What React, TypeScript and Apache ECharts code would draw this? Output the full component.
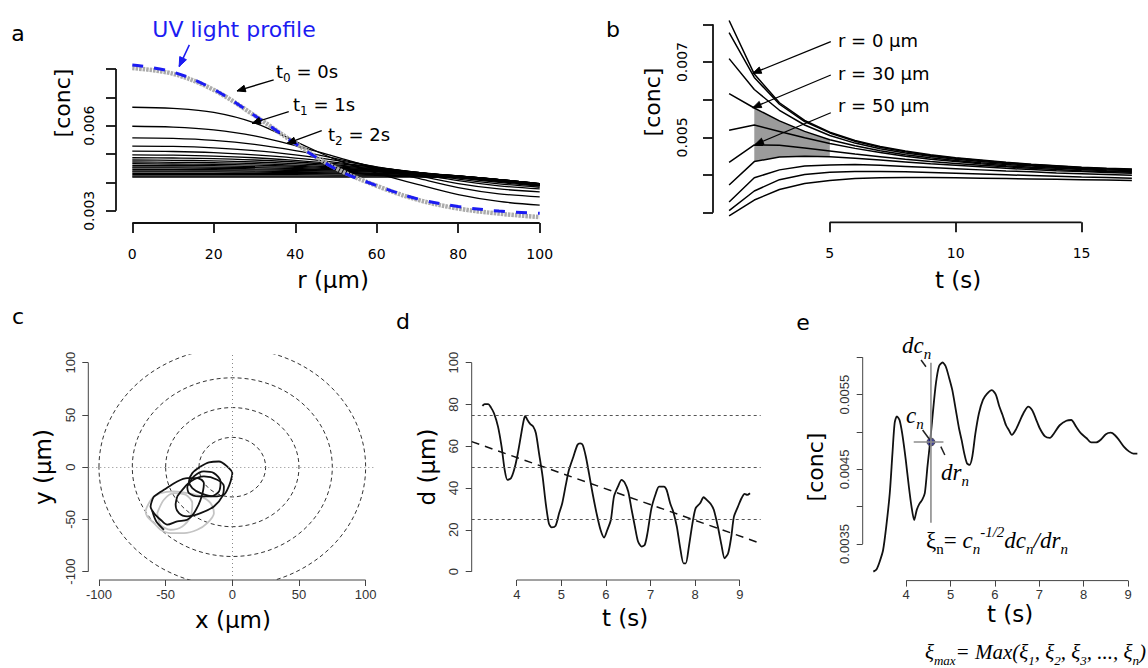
import React, { useEffect, useRef } from "react";
import * as echarts from "echarts";

// ---------------- Panel a : c(r) profiles (values ×1e-3) ----------------
const radiusSteps = [0, 10, 20, 30, 40, 50, 60, 70, 80, 90, 100];
const uvLightProfile = [8.14, 7.89, 7.28, 6.36, 5.37, 4.47, 3.89, 3.42, 3.15, 2.99, 2.91];
const profileT0 = [8.03, 7.83, 7.26, 6.36, 5.38, 4.5, 3.88, 3.39, 3.08, 2.9, 2.78];
const laterProfiles = [
  [6.65, 6.61, 6.47, 6.1, 5.45, 4.8, 4.33, 3.93, 3.57, 3.33, 3.2],
  [5.98, 5.95, 5.85, 5.64, 5.3, 4.9, 4.5, 4.15, 3.82, 3.6, 3.49],
  [5.57, 5.55, 5.48, 5.34, 5.12, 4.84, 4.53, 4.24, 3.96, 3.77, 3.67],
  [5.28, 5.27, 5.22, 5.12, 4.97, 4.78, 4.55, 4.31, 4.06, 3.88, 3.77],
  [5.1, 5.09, 5.05, 4.97, 4.86, 4.71, 4.53, 4.34, 4.12, 3.95, 3.83],
  [4.97, 4.96, 4.93, 4.87, 4.78, 4.66, 4.52, 4.35, 4.16, 4.0, 3.87],
  [4.87, 4.86, 4.84, 4.79, 4.72, 4.62, 4.5, 4.35, 4.18, 4.03, 3.89],
  [4.79, 4.78, 4.76, 4.72, 4.66, 4.58, 4.48, 4.35, 4.2, 4.04, 3.9],
  [4.72, 4.71, 4.7, 4.66, 4.61, 4.54, 4.46, 4.35, 4.21, 4.06, 3.91],
  [4.66, 4.65, 4.64, 4.61, 4.57, 4.51, 4.44, 4.34, 4.22, 4.07, 3.92],
  [4.6, 4.6, 4.59, 4.56, 4.53, 4.48, 4.42, 4.34, 4.23, 4.08, 3.92],
  [4.55, 4.55, 4.54, 4.52, 4.49, 4.45, 4.4, 4.33, 4.23, 4.09, 3.93],
  [4.51, 4.51, 4.5, 4.48, 4.46, 4.43, 4.38, 4.32, 4.23, 4.1, 3.93],
  [4.46, 4.46, 4.45, 4.44, 4.42, 4.4, 4.36, 4.31, 4.23, 4.1, 3.94],
  [4.41, 4.41, 4.41, 4.4, 4.38, 4.36, 4.33, 4.29, 4.22, 4.1, 3.94],
  [4.37, 4.37, 4.37, 4.36, 4.35, 4.33, 4.31, 4.27, 4.21, 4.1, 3.95],
  [4.32, 4.32, 4.32, 4.32, 4.31, 4.3, 4.28, 4.25, 4.2, 4.1, 3.95],
  [4.27, 4.27, 4.27, 4.27, 4.27, 4.26, 4.25, 4.23, 4.19, 4.1, 3.96],
  [4.22, 4.22, 4.22, 4.22, 4.22, 4.22, 4.22, 4.21, 4.18, 4.1, 3.96],
  [4.19, 4.19, 4.19, 4.19, 4.19, 4.19, 4.19, 4.19, 4.16, 4.09, 3.96],
];
const aTicksX = [0, 20, 40, 60, 80, 100];
const aTicksY = [0.003, 0.004, 0.005, 0.006, 0.007, 0.008];
const aLabelsY = [0.003, 0.006];
const aArrows = [
  [34.7, 0.007614, 25.7, 0.007225],
  [38.4, 0.006494, 29.4, 0.006085],
  [46.5, 0.005824, 38.0, 0.005379],
];
const uvArrow = [[14.0, 0.008849, 11.5, 0.008083]];

// ---------------- Panel b : c(t) at several radii (values ×1e-3) ----------------
const timeSteps = [1, 2, 3, 4, 5, 6, 7, 8, 9, 10, 11, 12, 13, 14, 15, 16, 17];
const bProfiles = [
  [8.1, 6.68, 5.92, 5.45, 5.14, 4.92, 4.76, 4.64, 4.54, 4.46, 4.4, 4.34, 4.29, 4.25, 4.21, 4.18, 4.16],
  [7.78, 6.59, 5.88, 5.42, 5.12, 4.9, 4.74, 4.62, 4.52, 4.45, 4.39, 4.33, 4.28, 4.24, 4.2, 4.17, 4.15],
  [7.09, 6.27, 5.72, 5.33, 5.05, 4.85, 4.7, 4.59, 4.5, 4.42, 4.36, 4.31, 4.26, 4.22, 4.19, 4.16, 4.14],
  [6.16, 5.78, 5.44, 5.16, 4.94, 4.78, 4.65, 4.54, 4.46, 4.39, 4.33, 4.28, 4.24, 4.2, 4.17, 4.14, 4.12],
  [5.19, 5.33, 5.16, 4.99, 4.84, 4.71, 4.6, 4.5, 4.42, 4.36, 4.3, 4.25, 4.21, 4.18, 4.15, 4.12, 4.1],
  [4.34, 4.8, 4.79, 4.72, 4.64, 4.56, 4.49, 4.42, 4.36, 4.31, 4.26, 4.22, 4.18, 4.15, 4.12, 4.1, 4.08],
  [3.74, 4.36, 4.48, 4.5, 4.49, 4.45, 4.4, 4.35, 4.3, 4.26, 4.22, 4.18, 4.15, 4.12, 4.1, 4.07, 4.05],
  [3.29, 3.93, 4.14, 4.24, 4.27, 4.28, 4.26, 4.23, 4.2, 4.17, 4.14, 4.11, 4.09, 4.06, 4.04, 4.02, 4.0],
  [3.06, 3.58, 3.88, 4.02, 4.08, 4.1, 4.1, 4.09, 4.07, 4.05, 4.03, 4.01, 3.99, 3.97, 3.95, 3.94, 3.92],
  [2.92, 3.34, 3.62, 3.78, 3.86, 3.91, 3.93, 3.94, 3.94, 3.93, 3.92, 3.91, 3.9, 3.89, 3.88, 3.87, 3.86],
];
const shadeUpper = 3; // r = 30 µm curve
const shadeLower = 6;
const shadeTimes = [2, 3, 4, 5];
const bTicksX = [5, 10, 15];
const bTicksY = [0.003, 0.004, 0.005, 0.006, 0.007, 0.008];
const bLabelsY = [0.005, 0.007];
const bArrows = [
  [5.04, 0.007538, 1.94, 0.0067],
  [5.04, 0.006655, 1.94, 0.005788],
  [5.04, 0.005655, 2.03, 0.004812],
];

// ---------------- Panel c : trajectory in x-y ----------------
const ringRx = [25, 50, 75, 100];
const ringRy = [28.5, 57, 85.5, 114];
const cTicks = [-100, -50, 0, 50, 100];
const grayLoops = [
  [[-63.8, -37.6], [-60, -29.6], [-53.8, -24.8], [-43.8, -23.2], [-33.8, -24.8], [-23.8, -28], [-16.3, -34.4], [-13.8, -44], [-18.8, -53.5], [-26.3, -59.9], [-36.3, -63.1], [-46.3, -63.1], [-53.8, -59.9], [-58.8, -53.5], [-63.8, -47.1], [-65, -42.4], [-63.8, -37.6]],
  [[-56.3, -44], [-51.3, -31.2], [-43.8, -24.8], [-35, -26.4], [-30, -34.4], [-31.3, -47.1], [-37.5, -56.7], [-46.3, -59.9], [-53.8, -55.1], [-56.3, -44]],
];
const blackLoops = [
  [[-23.8, 0.6], [-17.5, 4.5], [-10, 5.4], [-3.8, 0.6], [0, -5.7], [-1.3, -13.7], [-3.8, -21.7], [-6.3, -26.4], [-13.8, -28], [-23.8, -24.8], [-30, -20], [-32.5, -13.7], [-30, -5.7], [-23.8, 0.6]],
  [[-58.8, -28], [-51.3, -21.7], [-41.3, -13.7], [-33.8, -10.5], [-26.3, -10.5], [-21.3, -15.3], [-23.8, -31.2], [-28.8, -44], [-33.8, -50.3], [-41.3, -51.9], [-48.8, -55.1], [-53.8, -50.3], [-58.8, -44], [-61.3, -37.6], [-60, -31.2], [-58.8, -28]],
  [[-60, -42], [-57, -52], [-51.3, -60]],
  [[-41.3, -28], [-37.5, -21.7], [-31.3, -13.7], [-21.3, -8.9], [-11.3, -12.1], [-6.3, -18.5], [-7.5, -28], [-13.8, -37.6], [-23.8, -44], [-33.8, -47.1], [-40, -44], [-42.5, -36], [-41.3, -28]],
  [[-33.8, -18.5], [-28.8, -8.9], [-21.3, -4.1], [-13.8, -5.7], [-8.8, -13.7], [-10, -23.2], [-16.3, -28], [-25, -28], [-32.5, -24.8], [-33.8, -18.5]],
];

// ---------------- Panel d : distance d(t) ----------------
const dTrace = [
  [3.23, 79.3], [3.28, 80.2], [3.36, 80.2], [3.42, 78.6], [3.49, 75.8], [3.58, 69.4], [3.66, 59.8], [3.73, 48.6],
  [3.79, 43.9], [3.87, 44.7], [3.94, 48.6], [4.01, 55], [4.09, 64.6], [4.15, 71.8], [4.19, 74.5], [4.24, 72.6],
  [4.3, 70.7], [4.37, 69.4], [4.43, 66.2], [4.5, 56.6], [4.58, 45.5], [4.65, 32.7], [4.72, 23.1], [4.78, 21.2],
  [4.87, 21.9], [4.95, 27.9], [5.02, 32.7], [5.1, 41.5], [5.17, 48.6], [5.27, 55], [5.36, 60.6], [5.42, 61.4],
  [5.48, 60.6], [5.55, 55], [5.62, 47], [5.7, 37.5], [5.79, 27.9], [5.88, 19.9], [5.96, 16.3], [6.03, 19.9],
  [6.11, 24.7], [6.18, 35.9], [6.27, 40.7], [6.35, 43.9], [6.42, 42.6], [6.5, 38.3], [6.57, 30.3], [6.65, 21.5],
  [6.72, 14.4], [6.8, 12], [6.87, 12.8], [6.93, 18.3], [7.02, 30.3], [7.12, 37.5], [7.19, 40.7], [7.3, 40.7],
  [7.36, 39.1], [7.44, 32.7], [7.51, 28.7], [7.59, 21.5], [7.66, 12], [7.74, 4], [7.79, 4], [7.86, 12],
  [7.94, 23.1], [8.01, 30.3], [8.11, 32.7], [8.19, 35.6], [8.26, 34.3], [8.35, 32.4], [8.42, 29.5], [8.51, 21.5],
  [8.59, 12.8], [8.66, 6.4], [8.74, 8.8], [8.81, 16.7], [8.87, 26.3], [8.96, 31.1], [9.04, 35.1], [9.11, 37.2],
  [9.17, 36.7], [9.23, 37.5],
];
const dTrend = [[2.99, 62.2], [9.47, 13.5]];
const dLevels = [25, 50, 75];
const dTicksX = [4, 5, 6, 7, 8, 9];
const dTicksY = [0, 20, 40, 60, 80, 100];

// ---------------- Panel e : concentration at the cell c(t) ----------------
const eTrace = [
  [3.26, 0.00313], [3.33, 0.00316], [3.4, 0.00326], [3.48, 0.00342], [3.55, 0.00373], [3.63, 0.00418], [3.69, 0.00471],
  [3.74, 0.00512], [3.79, 0.00521], [3.85, 0.00516], [3.91, 0.00498], [3.99, 0.00463], [4.06, 0.00427], [4.12, 0.004],
  [4.18, 0.00382], [4.24, 0.00396], [4.3, 0.00404], [4.36, 0.00409], [4.42, 0.00418], [4.48, 0.00454], [4.54, 0.00487],
  [4.6, 0.00525], [4.67, 0.00565], [4.74, 0.00588], [4.82, 0.00593], [4.89, 0.00588], [4.97, 0.00572], [5.04, 0.00556],
  [5.12, 0.00529], [5.19, 0.00505], [5.25, 0.00489], [5.31, 0.00471], [5.37, 0.00458], [5.43, 0.00456], [5.49, 0.00467],
  [5.56, 0.00498], [5.64, 0.00525], [5.73, 0.00543], [5.82, 0.00551], [5.93, 0.00556], [6.02, 0.0055], [6.1, 0.00534],
  [6.17, 0.00523], [6.25, 0.00509], [6.31, 0.00503], [6.38, 0.00496], [6.47, 0.00503], [6.57, 0.00516], [6.66, 0.00527],
  [6.75, 0.00534], [6.84, 0.00529], [6.92, 0.00518], [7.01, 0.00505], [7.13, 0.00494], [7.24, 0.00492], [7.33, 0.00498],
  [7.46, 0.00509], [7.61, 0.00515], [7.72, 0.00516], [7.83, 0.00507], [7.94, 0.00498], [8.06, 0.00492], [8.17, 0.00486],
  [8.28, 0.00486], [8.39, 0.0049], [8.5, 0.00497], [8.61, 0.00499], [8.7, 0.00496], [8.8, 0.00489], [8.91, 0.0048],
  [9.02, 0.00474], [9.12, 0.00471], [9.21, 0.00471],
];
const eTicksX = [4, 5, 6, 7, 8, 9];
const eTicksY = [0.0035, 0.004, 0.0045, 0.005, 0.0055, 0.006];
const eLabelsY = [0.0035, 0.0045, 0.0055];
const eSample = [[4.558, 0.004866]];
const eCrossV = [[4.558, 0.005928], [4.558, 0.003785]];
const eCrossH = [[4.17, 0.004866], [4.84, 0.004866]];
const eLeaders = [
  [4.335, 0.005964, 4.446, 0.005874],
  [4.37, 0.005027, 4.536, 0.004893],
  [4.781, 0.004803, 4.871, 0.004692],
];

const SANS = "DejaVu Sans";
const ARIAL = "Liberation Sans";
const SERIF = "Liberation Serif";

function makeAxes(g: number, c: any) {
  const common = {
    gridIndex: g,
    type: "value",
    splitLine: { show: false },
    axisLine: { show: false, onZero: false },
  };
  const lbl = { fontFamily: c.font, fontSize: c.fontSize, color: c.color };
  return [
    {
      ...common,
      min: c.xMin,
      max: c.xMax,
      axisTick: { show: true, customValues: c.xTicks, length: c.tickLen, lineStyle: { color: c.lineColor, width: c.lineW } },
      axisLabel: { show: true, customValues: c.xLabels, margin: c.xMargin, formatter: c.xFmt, ...lbl },
    },
    {
      ...common,
      min: c.yMin,
      max: c.yMax,
      axisTick: { show: true, customValues: c.yTicks, length: c.tickLen, lineStyle: { color: c.lineColor, width: c.lineW } },
      axisLabel: { show: true, customValues: c.yLabels, margin: c.yMargin, rotate: 90, formatter: c.yFmt, ...lbl },
    },
  ];
}

function axisLineSeries(g: number, c: any) {
  return {
    type: "custom",
    xAxisIndex: g,
    yAxisIndex: g,
    clip: false,
    silent: true,
    z: 3,
    data: [[c.xTicks[0], c.yTicks[0]]],
    renderItem: (_p: any, api: any) => {
      const a = api.coord([c.xTicks[0], c.yMin]);
      const b = api.coord([c.xTicks[c.xTicks.length - 1], c.yMin]);
      const d = api.coord([c.xMin, c.yTicks[0]]);
      const e = api.coord([c.xMin, c.yTicks[c.yTicks.length - 1]]);
      const st = { stroke: c.lineColor, lineWidth: c.lineW };
      return {
        type: "group",
        children: [
          { type: "line", shape: { x1: a[0], y1: a[1], x2: b[0], y2: b[1] }, style: st },
          { type: "line", shape: { x1: d[0], y1: d[1], x2: e[0], y2: e[1] }, style: st },
        ],
      };
    },
  };
}

function arrowSeries(g: number, arrows: number[][], color: string, width: number, head: number) {
  return {
    type: "custom",
    xAxisIndex: g,
    yAxisIndex: g,
    clip: false,
    silent: true,
    z: 6,
    data: arrows,
    renderItem: (_p: any, api: any) => {
      const p1 = api.coord([api.value(0), api.value(1)]);
      const p2 = api.coord([api.value(2), api.value(3)]);
      const children: any[] = [
        { type: "line", shape: { x1: p1[0], y1: p1[1], x2: p2[0], y2: p2[1] }, style: { stroke: color, lineWidth: width } },
      ];
      if (head > 0) {
        const ang = Math.atan2(p2[1] - p1[1], p2[0] - p1[0]);
        const a1 = ang + Math.PI - 0.38;
        const a2 = ang + Math.PI + 0.38;
        children.push({
          type: "polygon",
          shape: {
            points: [
              [p2[0] + head * Math.cos(a1), p2[1] + head * Math.sin(a1)],
              [p2[0], p2[1]],
              [p2[0] + head * Math.cos(a2), p2[1] + head * Math.sin(a2)],
            ],
          },
          style: { fill: color, stroke: color, lineWidth: 1 },
        });
      }
      return { type: "group", children };
    },
  };
}

function lineSeries(g: number, data: number[][], color: string, width: number, extra: any = {}) {
  return {
    type: "line",
    xAxisIndex: g,
    yAxisIndex: g,
    data,
    showSymbol: false,
    symbol: "none",
    silent: true,
    z: 4,
    lineStyle: { color, width, ...(extra.lineStyle || {}) },
    smooth: extra.smooth ?? false,
    clip: extra.clip ?? true,
    ...(extra.markLine ? { markLine: extra.markLine } : {}),
  };
}

function textEl(x: number, y: number, text: string, size: number, opt: any = {}) {
  return {
    type: "text",
    x,
    y,
    rotation: opt.rotation || 0,
    silent: true,
    z: 10,
    style: {
      text,
      fontFamily: opt.font || SANS,
      fontSize: size,
      fontStyle: opt.italic ? "italic" : "normal",
      fill: opt.color || "#000",
      align: opt.align || "center",
      verticalAlign: "middle",
      textAlign: opt.align || "center",
      textVerticalAlign: "middle",
      ...(opt.rich ? { rich: opt.rich } : {}),
    },
  };
}

function buildOption() {
  const m = (v: number) => v * 1e-3;
  const cfgA = {
    xMin: -4, xMax: 104, yMin: 0.00257, yMax: 0.00835,
    xTicks: aTicksX, xLabels: aTicksX, yTicks: aTicksY, yLabels: aLabelsY,
    xFmt: (v: number) => String(v), yFmt: (v: number) => v.toFixed(3),
    tickLen: 10, xMargin: 24, yMargin: 20, font: SANS, fontSize: 14, color: "#000", lineColor: "#111", lineW: 1.8,
  };
  const cfgB = {
    xMin: 0.36, xMax: 17.64, yMin: 0.00275, yMax: 0.00831,
    xTicks: bTicksX, xLabels: bTicksX, yTicks: bTicksY, yLabels: bLabelsY,
    xFmt: (v: number) => String(v), yFmt: (v: number) => v.toFixed(3),
    tickLen: 10, xMargin: 24, yMargin: 24, font: SANS, fontSize: 14, color: "#000", lineColor: "#111", lineW: 1.8,
  };
  const cfgC = {
    xMin: -108, xMax: 108, yMin: -108, yMax: 108,
    xTicks: cTicks, xLabels: cTicks, yTicks: cTicks, yLabels: cTicks,
    xFmt: (v: number) => String(v), yFmt: (v: number) => String(v),
    tickLen: 6, xMargin: 8, yMargin: 11, font: ARIAL, fontSize: 13, color: "#333", lineColor: "#444", lineW: 1,
  };
  const cfgD = {
    xMin: 2.99, xMax: 9.47, yMin: -4, yMax: 104,
    xTicks: dTicksX, xLabels: dTicksX, yTicks: dTicksY, yLabels: dTicksY,
    xFmt: (v: number) => String(v), yFmt: (v: number) => String(v),
    tickLen: 6, xMargin: 8, yMargin: 12, font: ARIAL, fontSize: 13, color: "#333", lineColor: "#444", lineW: 1,
  };
  const cfgE = {
    xMin: 3.02, xMax: 9.45, yMin: 0.00301, yMax: 0.00604,
    xTicks: eTicksX, xLabels: eTicksX, yTicks: eTicksY, yLabels: eLabelsY,
    xFmt: (v: number) => String(v), yFmt: (v: number) => v.toFixed(4),
    tickLen: 6, xMargin: 7, yMargin: 12, font: ARIAL, fontSize: 13, color: "#333", lineColor: "#444", lineW: 1,
  };
  const cfgs = [cfgA, cfgB, cfgC, cfgD, cfgE];
  const axes = cfgs.map((c, i) => makeAxes(i, c));

  const series: any[] = [];
  cfgs.forEach((c, i) => series.push(axisLineSeries(i, c)));

  // panel a
  laterProfiles.forEach((p) =>
    series.push(lineSeries(0, radiusSteps.map((r, i) => [r, m(p[i])]), "#000", 1.3, { smooth: 0.35 }))
  );
  series.push(
    lineSeries(0, radiusSteps.map((r, i) => [r, m(profileT0[i])]), "#ababab", 4.5, {
      smooth: 0.35,
      lineStyle: { type: [2.5, 1], cap: "butt" },
    })
  );
  series.push(
    lineSeries(0, radiusSteps.map((r, i) => [r, m(uvLightProfile[i])]), "#1c1cf2", 3, {
      smooth: 0.35,
      clip: false,
      lineStyle: { type: [11, 11] },
    })
  );
  series.push(arrowSeries(0, aArrows, "#000", 1.3, 9));
  series.push(arrowSeries(0, uvArrow, "#1c1cf2", 1.5, 10));

  // panel b
  series.push({
    type: "custom",
    xAxisIndex: 1,
    yAxisIndex: 1,
    silent: true,
    z: 2,
    data: [[shadeTimes[0], m(bProfiles[shadeUpper][0])]],
    renderItem: (_p: any, api: any) => {
      const up = shadeTimes.map((t) => api.coord([t, m(bProfiles[shadeUpper][timeSteps.indexOf(t)])]));
      const lo = shadeTimes
        .slice()
        .reverse()
        .map((t) => api.coord([t, m(bProfiles[shadeLower][timeSteps.indexOf(t)])]));
      return { type: "polygon", shape: { points: up.concat(lo) }, style: { fill: "#9b9b9b" } };
    },
  });
  bProfiles.forEach((p) => series.push(lineSeries(1, timeSteps.map((t, i) => [t, m(p[i])]), "#000", 1.5)));
  series.push(arrowSeries(1, bArrows, "#000", 1.3, 9));

  // panel c
  series.push({
    type: "custom",
    xAxisIndex: 2,
    yAxisIndex: 2,
    clip: true,
    silent: true,
    z: 2,
    data: ringRx.map((rx, i) => [rx, ringRy[i]]),
    renderItem: (_p: any, api: any) => {
      const c = api.coord([0, 0]);
      const rx = api.size([api.value(0), 0])[0];
      const ry = api.size([0, api.value(1)])[1];
      return {
        type: "ellipse",
        shape: { cx: c[0], cy: c[1], rx, ry },
        style: { fill: "none", stroke: "#333", lineWidth: 1, lineDash: [4, 3] },
      };
    },
  });
  grayLoops.forEach((l, i) =>
    series.push(
      lineSeries(2, l, "#c4c4c4", 1.8, {
        smooth: 0.3,
        markLine:
          i === 0
            ? {
                silent: true,
                symbol: "none",
                label: { show: false },
                lineStyle: { type: [1, 3], color: "#888", width: 1 },
                data: [{ xAxis: 0 }, { yAxis: 0 }],
              }
            : undefined,
      })
    )
  );
  blackLoops.forEach((l) => series.push(lineSeries(2, l, "#111", 1.8, { smooth: 0.3 })));

  // panel d
  series.push(
    lineSeries(3, dTrace, "#111", 1.8, {
      smooth: 0.25,
      markLine: {
        silent: true,
        symbol: "none",
        label: { show: false },
        lineStyle: { type: [3, 3], color: "#555", width: 1 },
        data: dLevels.map((v) => ({ yAxis: v })),
      },
    })
  );
  series.push(lineSeries(3, dTrend, "#111", 1.5, { lineStyle: { type: [8, 6] } }));

  // panel e
  series.push(lineSeries(4, eTrace, "#111", 1.8, { smooth: 0.25 }));
  series.push({
    type: "scatter",
    xAxisIndex: 4,
    yAxisIndex: 4,
    data: eSample,
    symbol: "circle",
    symbolSize: 8,
    silent: true,
    z: 6,
    itemStyle: { color: "#15157a", borderColor: "#444", borderWidth: 1 },
  });
  series.push({ ...lineSeries(4, eCrossV, "#8c8c8c", 1.6), z: 7 });
  series.push({ ...lineSeries(4, eCrossH, "#8c8c8c", 1.6), z: 7 });
  series.push(arrowSeries(4, eLeaders, "#222", 1.5, 0));

  const richA = {
    m: { fontFamily: SANS, fontSize: 18, lineHeight: 26, verticalAlign: "middle" },
    s: { fontFamily: SANS, fontSize: 12, lineHeight: 26, verticalAlign: "bottom" },
  };
  const mkRich = (big: number, small: number, lh: number) => ({
    i: { fontFamily: SERIF, fontStyle: "italic", fontSize: big, lineHeight: lh, verticalAlign: "middle", fill: "#000" },
    u: { fontFamily: SERIF, fontSize: big, lineHeight: lh, verticalAlign: "middle", fill: "#000" },
    s: { fontFamily: SERIF, fontStyle: "italic", fontSize: small, lineHeight: lh, verticalAlign: "bottom", fill: "#000" },
    us: { fontFamily: SERIF, fontSize: small, lineHeight: lh, verticalAlign: "bottom", fill: "#000" },
    p: { fontFamily: SERIF, fontStyle: "italic", fontSize: small, lineHeight: lh, verticalAlign: "top", fill: "#000" },
  });
  const richE = mkRich(23, 15, 32);
  const richF = mkRich(21, 13, 30);
  const R = Math.PI / 2;
  const graphic = [
    textEl(18, 33, "a", 22),
    textEl(613, 29, "b", 22),
    textEl(18, 316, "c", 22),
    textEl(403, 321, "d", 22),
    textEl(803, 322, "e", 22),
    textEl(234, 29, "UV light profile", 22, { color: "#1c1cf2" }),
    // axis titles
    textEl(62, 103, "[conc]", 22, { rotation: R }),
    textEl(333, 280, "r (μm)", 23),
    textEl(652, 102, "[conc]", 22, { rotation: R }),
    textEl(958, 280, "t (s)", 23),
    textEl(43, 467, "y (μm)", 23, { rotation: R }),
    textEl(233, 620, "x (μm)", 23),
    textEl(427, 467, "d (μm)", 23, { rotation: R }),
    textEl(625, 618, "t (s)", 23),
    textEl(815, 467, "[conc]", 22, { rotation: R }),
    textEl(1010, 614, "t (s)", 23),
    // panel a annotations
    textEl(276, 71, "{m|t}{s|0}{m| = 0s}", 18, { align: "left", rich: richA }),
    textEl(293, 104, "{m|t}{s|1}{m| = 1s}", 18, { align: "left", rich: richA }),
    textEl(328, 134, "{m|t}{s|2}{m| = 2s}", 18, { align: "left", rich: richA }),
    // panel b annotations
    textEl(838, 40, "r = 0 μm", 18, { align: "left" }),
    textEl(838, 73, "r = 30 μm", 18, { align: "left" }),
    textEl(838, 105, "r = 50 μm", 18, { align: "left" }),
    // panel e annotations
    textEl(902, 345, "{i|dc}{s|n}", 23, { align: "left", rich: richE }),
    textEl(906, 415, "{i|c}{s|n}", 23, { align: "left", rich: richE }),
    textEl(941, 472, "{i|dr}{s|n}", 23, { align: "left", rich: richE }),
    textEl(926, 540, "{u|ξ}{us|n}{u|= }{i|c}{s|n}{p|-1/2}{i|dc}{s|n}{i|/dr}{s|n}", 23, { align: "left", rich: richE }),
    textEl(1146, 652, "{i|ξ}{s|max}{i|= Max(ξ}{s|1}{i|, ξ}{s|2}{i|, ξ}{s|3}{i|, ..., ξ}{s|n}{i|)}", 21, {
      align: "right",
      rich: richF,
    }),
  ];

  return {
    animation: false,
    backgroundColor: "#fff",
    grid: [
      { left: 116, top: 59, width: 440, height: 164 },
      { left: 713, top: 12.6, width: 437.7, height: 209.7 },
      { left: 88.3, top: 354.3, width: 288, height: 225.7 },
      { left: 471.7, top: 354.3, width: 289, height: 225.7 },
      { left: 862.7, top: 354.3, width: 288, height: 226.3 },
    ],
    xAxis: axes.map((a) => a[0]),
    yAxis: axes.map((a) => a[1]),
    series,
    graphic,
  };
}

export default function App() {
  const ref = useRef<HTMLDivElement>(null);
  useEffect(() => {
    const chart = echarts.init(ref.current!, undefined, { renderer: "svg" });
    chart.setOption(buildOption() as any);
    return () => chart.dispose();
  }, []);
  return (
    <div
      ref={ref}
      style={{ position: "absolute", left: 0, top: 0, width: 1148, height: 668, background: "#fff" }}
    />
  );
}
